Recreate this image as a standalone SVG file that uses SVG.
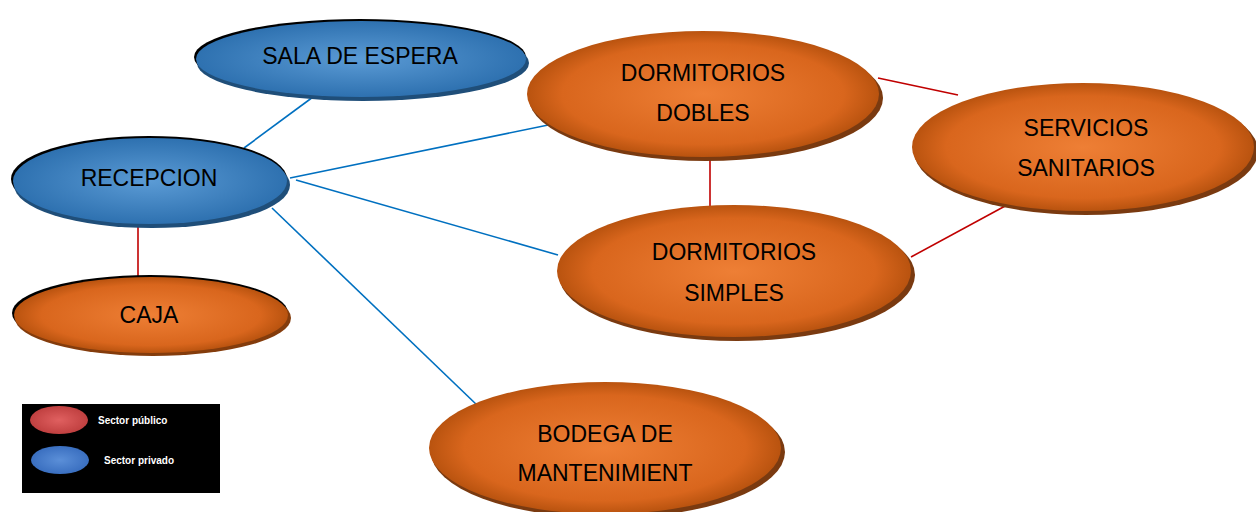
<svg xmlns="http://www.w3.org/2000/svg" width="1256" height="512" viewBox="0 0 1256 512">
<style>
.t{font-family:"Liberation Sans",Arial,sans-serif;font-size:23px;fill:#000;text-anchor:middle}
.lg{font-family:"Liberation Sans",Arial,sans-serif;font-size:10px;fill:#fff;font-weight:bold}
.b{stroke:#0070c0;stroke-width:1.6;fill:none}
.r{stroke:#c00000;stroke-width:1.6;fill:none}
</style>
<defs>
<radialGradient id="gb" cx="50%" cy="50%" r="50%">
<stop offset="0" stop-color="#5b9bd5"/><stop offset="1" stop-color="#2e71b0"/>
</radialGradient>
<radialGradient id="go" cx="50%" cy="50%" r="50%">
<stop offset="0" stop-color="#ee7f35"/><stop offset="0.8" stop-color="#d9661d"/><stop offset="1" stop-color="#b9530f"/>
</radialGradient>
<radialGradient id="glr" cx="50%" cy="50%" r="50%">
<stop offset="0" stop-color="#e06060"/><stop offset="1" stop-color="#c04040"/>
</radialGradient>
<radialGradient id="glb" cx="50%" cy="50%" r="50%">
<stop offset="0" stop-color="#5b8fd8"/><stop offset="1" stop-color="#3a6fc0"/>
</radialGradient>
</defs>
<rect width="1256" height="512" fill="#fff"/>
<g id="connectors">
<line class="b" x1="244" y1="148" x2="313" y2="97"/>
<line class="b" x1="290" y1="178" x2="558" y2="123"/>
<line class="b" x1="296" y1="180" x2="558" y2="255"/>
<line class="b" x1="272" y1="208" x2="478" y2="406"/>
<line class="r" x1="138" y1="219" x2="138" y2="278"/>
<line class="r" x1="710" y1="150" x2="710" y2="206"/>
<line class="r" x1="878" y1="78" x2="958" y2="95"/>
<line class="r" x1="911" y1="257" x2="1007" y2="205"/>
</g>
<g id="sala">
<ellipse cx="360" cy="57" rx="166" ry="38" fill="#000"/>
<ellipse cx="363" cy="63" rx="166" ry="38" fill="#1f4e79"/>
<ellipse cx="361" cy="59" rx="165" ry="38" fill="url(#gb)"/>
<text class="t" x="360" y="64">SALA DE ESPERA</text>
</g>
<g id="recepcion">
<ellipse cx="149" cy="179" rx="138" ry="43" fill="#000"/>
<ellipse cx="152" cy="185" rx="138" ry="43" fill="#1f4e79"/>
<ellipse cx="150" cy="181" rx="137" ry="43" fill="url(#gb)"/>
<text class="t" x="149" y="186">RECEPCION</text>
</g>
<g id="caja">
<ellipse cx="150" cy="313" rx="138" ry="38" fill="#000"/>
<ellipse cx="153" cy="318" rx="138" ry="38" fill="#843c0c"/>
<ellipse cx="151" cy="315" rx="137" ry="38" fill="url(#go)"/>
<text class="t" x="149" y="323">CAJA</text>
</g>
<g id="dobles">
<ellipse cx="706" cy="98" rx="177" ry="63" fill="#7a3a10"/>
<ellipse cx="703" cy="94" rx="176" ry="63" fill="url(#go)"/>
<text class="t" x="703" y="81">DORMITORIOS</text>
<text class="t" x="703" y="121">DOBLES</text>
</g>
<g id="servicios">
<ellipse cx="1086" cy="151" rx="172" ry="64" fill="#7a3a10"/>
<ellipse cx="1083" cy="147" rx="171" ry="64" fill="url(#go)"/>
<text class="t" x="1086" y="136">SERVICIOS</text>
<text class="t" x="1086" y="176">SANITARIOS</text>
</g>
<g id="simples">
<ellipse cx="737" cy="275" rx="178" ry="66" fill="#7a3a10"/>
<ellipse cx="734" cy="271" rx="177" ry="66" fill="url(#go)"/>
<text class="t" x="734" y="260">DORMITORIOS</text>
<text class="t" x="734" y="301">SIMPLES</text>
</g>
<g id="bodega">
<ellipse cx="608" cy="452" rx="177" ry="66" fill="#7a3a10"/>
<ellipse cx="605" cy="448" rx="176" ry="66" fill="url(#go)"/>
<text class="t" x="605" y="442">BODEGA DE</text>
<text class="t" x="605" y="481">MANTENIMIENT</text>
</g>
<g id="legend">
<rect x="22" y="404" width="198" height="89" fill="#000"/>
<ellipse cx="59" cy="420" rx="29" ry="14" fill="url(#glr)"/>
<ellipse cx="60" cy="460" rx="29" ry="14" fill="url(#glb)"/>
<text class="lg" x="98" y="424">Sector público</text>
<text class="lg" x="104" y="464">Sector privado</text>
</g>
</svg>
